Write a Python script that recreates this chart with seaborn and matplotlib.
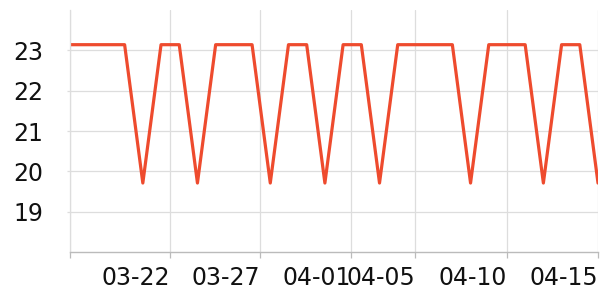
import matplotlib
matplotlib.use("Agg")
import matplotlib.pyplot as plt
import seaborn as sns
import pandas as pd

# Data
values = [23.14, 23.14, 23.14, 23.14, 19.71, 23.14, 23.14, 19.71, 23.14, 23.14,
          23.14, 19.71, 23.14, 23.14, 19.71, 23.14, 23.14, 19.71, 23.14, 23.14,
          23.14, 23.14, 19.71, 23.14, 23.14, 23.14, 19.71, 23.14, 23.14, 19.71]
tick_labels = ["", "03-22", "03-27", "04-01", "04-05", "04-10", "04-15"]
tick_positions = [0, 5.47, 10.44, 15.44, 18.96, 24.0, 29.0]
y_ticks = [19, 20, 21, 22, 23]

df = pd.DataFrame({"idx": list(range(len(values))), "value": values})

sns.set_theme(style="white")
plt.rcParams['font.family'] = ['DejaVu Sans']

fig = plt.figure(figsize=(6, 3), dpi=100)
ax = fig.add_axes([70/600, 1-252/300, (598-70)/600, (252-10)/300])

sns.lineplot(data=df, x="idx", y="value", ax=ax, color="#ee4b2e", linewidth=2.3)

ax.set_xlim(0, len(values) - 1)
ax.set_ylim(18, 24)
ax.set_yticks(y_ticks)
ax.set_yticklabels([str(t) for t in y_ticks], fontsize=17)
ax.set_xticks(tick_positions)
ax.set_xticklabels(tick_labels, fontsize=17, ha="right")
ax.set_xlabel("")
ax.set_ylabel("")

ax.grid(True, color="#dddddd", linewidth=0.9)
ax.set_axisbelow(True)
for s in ["top", "right"]:
    ax.spines[s].set_visible(False)
ax.spines["left"].set_color("#dddddd")
ax.spines["left"].set_linewidth(0.9)
ax.spines["bottom"].set_color("#bbbbbb")
ax.spines["bottom"].set_linewidth(1.0)

ax.tick_params(axis="x", which="both", bottom=True, length=4, width=0.9,
               color="#bbbbbb", pad=6, labelcolor="#111111")
ax.tick_params(axis="y", which="both", left=True, length=2, width=0.9,
               color="#dddddd", pad=17, labelcolor="#111111")

fig.savefig("out.png", dpi=100)
